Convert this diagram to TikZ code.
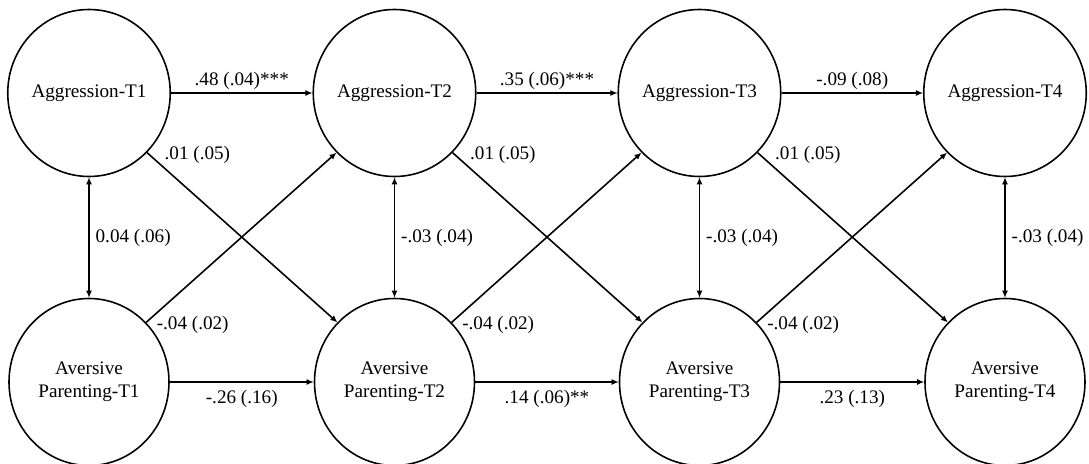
\documentclass[tikz,border=0pt]{standalone}
\usepackage{fontspec}
\setmainfont{Liberation Serif}
\usetikzlibrary{arrows.meta,shapes.geometric}

\begin{document}
\begin{tikzpicture}[
		latent/.style={draw, ellipse, line width=0.9pt, minimum width=3.2cm, minimum height=3.34cm, inner sep=0pt, align=center, font=\fontsize{10.9}{13.1}\selectfont},
		path/.style={line width=0.9pt, -{Latex[length=4pt,width=3.5pt]}},
		cov/.style={line width=0.9pt, {Latex[length=4pt,width=3.5pt]}-{Latex[length=4pt,width=3.5pt]}},
		est/.style={font=\fontsize{10.9}{13.1}\selectfont}
	]
	%%%%% START %%%%%
	
	\useasboundingbox (0, 0) rectangle (21.78, 9.26);
	
	% aggression
	\node[latent] (agg1) at (1.78, 7.4) {Aggression-T1};
	\node[latent] (agg2) at (7.89, 7.4) {Aggression-T2};
	\node[latent] (agg3) at (13.99, 7.4) {Aggression-T3};
	\node[latent] (agg4) at (20.1, 7.4) {Aggression-T4};
	
	% parenting
	\node[latent] (par1) at (1.78, 1.62) {Aversive\\Parenting-T1};
	\node[latent] (par2) at (7.89, 1.62) {Aversive\\Parenting-T2};
	\node[latent] (par3) at (13.99, 1.62) {Aversive\\Parenting-T3};
	\node[latent] (par4) at (20.1, 1.62) {Aversive\\Parenting-T4};
	
	% stability
	\draw[path] (agg1) -- node[est, above=-2pt] {.48 (.04)***} (agg2);
	\draw[path] (agg2) -- node[est, above=-2pt] {.35 (.06)***} (agg3);
	\draw[path] (agg3) -- node[est, above=-2pt] {-.09 (.08)} (agg4);
	
	\draw[path] (par1) -- node[est, below=1pt] {-.26 (.16)} (par2);
	\draw[path] (par2) -- node[est, below=1pt] {.14 (.06)**} (par3);
	\draw[path] (par3) -- node[est, below=1pt] {.23 (.13)} (par4);
	
	% covariances
	\draw[cov] (agg1) -- node[est, right] {0.04 (.06)} (par1);
	\draw[cov] (agg2) -- node[est, right] {-.03 (.04)} (par2);
	\draw[cov] (agg3) -- node[est, right] {-.03 (.04)} (par3);
	\draw[cov] (agg4) -- node[est, right] {-.03 (.04)} (par4);
	
	% cross-lagged
	\draw[path] (agg1.south east) -- node[est, pos=0, anchor=west, xshift=0.22cm, yshift=-0.05cm] {.01 (.05)} (par2.north west);
	\draw[path] (agg2.south east) -- node[est, pos=0, anchor=west, xshift=0.22cm, yshift=-0.05cm] {.01 (.05)} (par3.north west);
	\draw[path] (agg3.south east) -- node[est, pos=0, anchor=west, xshift=0.22cm, yshift=-0.05cm] {.01 (.05)} (par4.north west);
	
	\draw[path] (par1.north east) -- node[est, pos=0, anchor=west, xshift=0.08cm, yshift=-0.05cm] {-.04 (.02)} (agg2.south west);
	\draw[path] (par2.north east) -- node[est, pos=0, anchor=west, xshift=0.08cm, yshift=-0.05cm] {-.04 (.02)} (agg3.south west);
	\draw[path] (par3.north east) -- node[est, pos=0, anchor=west, xshift=0.08cm, yshift=-0.05cm] {-.04 (.02)} (agg4.south west);
	
	%%%%% END %%%%%
\end{tikzpicture}
\end{document}
